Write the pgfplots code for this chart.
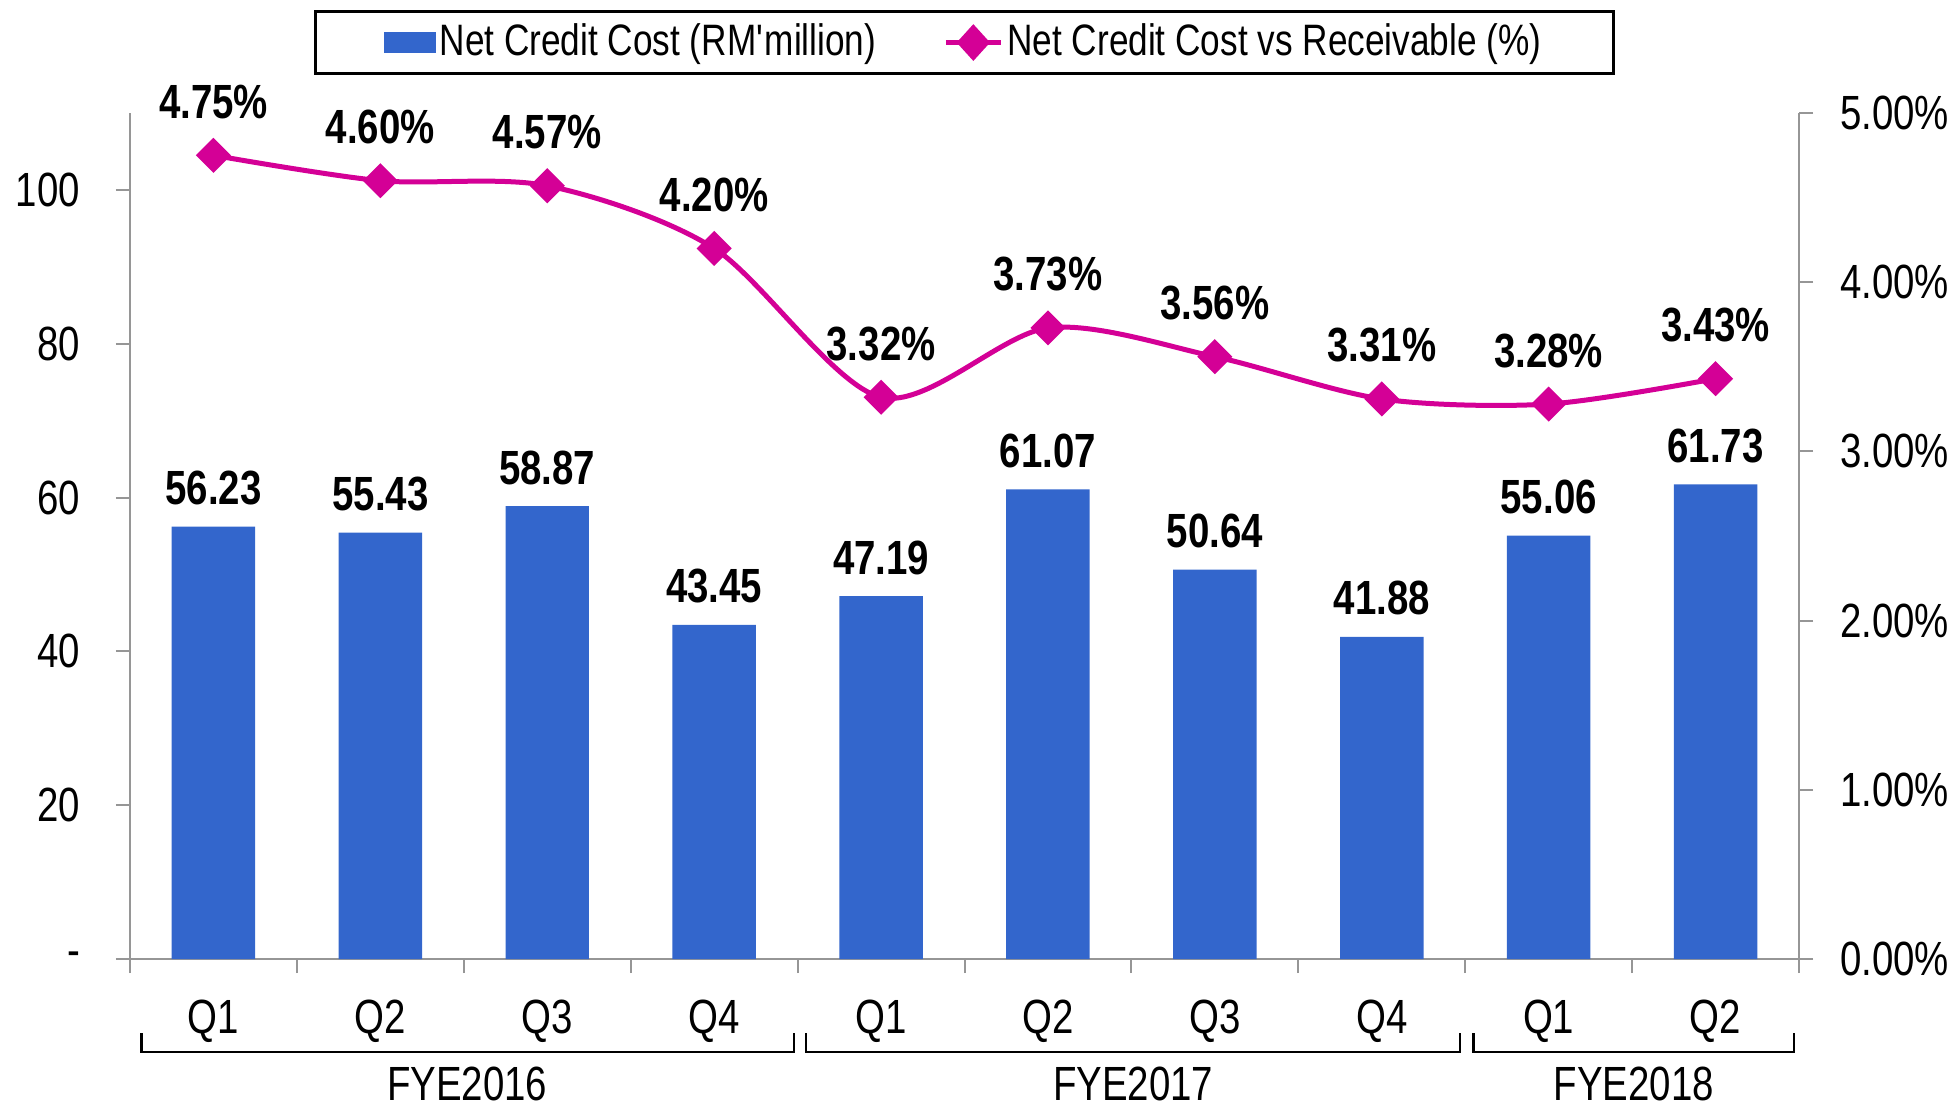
\documentclass[border=0pt]{standalone}
\usepackage{fontspec}
\setmainfont{Liberation Sans}[FakeStretch=0.8]
\usepackage{pgfplots}
\usepackage{pgfplotstable}
\pgfplotsset{compat=1.18}

\definecolor{barblue}{RGB}{51,102,204}
\definecolor{linemag}{RGB}{212,0,150}
\definecolor{axgray}{RGB}{150,150,150}

% quarters FYE2016 Q1 .. FYE2018 Q2
\pgfplotstableread{
x cost ratio
0 56.23 4.75
1 55.43 4.60
2 58.87 4.57
3 43.45 4.20
4 47.19 3.32
5 61.07 3.73
6 50.64 3.56
7 41.88 3.31
8 55.06 3.28
9 61.73 3.43
}\datatable

\newcommand{\lblfont}{\fontsize{12}{14}\selectfont}

\begin{document}
\begin{tikzpicture}
\pgfplotsset{
  common/.style={
    scale only axis, width=417.25pt, height=211.5pt,
    xmin=-0.5, xmax=9.5,
    at={(0,0)}, anchor=south west, clip=false,
    tick align=outside,
    major tick length=3.5pt, minor tick length=3.5pt,
    axis line style={draw=axgray, line width=0.5pt},
    every tick/.style={draw=axgray, line width=0.5pt},
    tick label style={font=\lblfont},
    /pgf/number format/assume math mode=true,
  },
}

\begin{axis}[common,
    ybar, bar width=0.5,
    ymin=0, ymax=110,
    axis y line*=left, axis x line*=bottom,
    ytick={0,20,...,100},
    yticklabels={-,20,40,60,80,100},
    yticklabel style={anchor=east, inner sep=0pt, xshift=-8.8pt},
    xtick={0,...,9},
    xticklabels={Q1,Q2,Q3,Q4,Q1,Q2,Q3,Q4,Q1,Q2},
    xticklabel style={anchor=base, inner sep=0pt, yshift=-15pt},
    minor xtick={-0.5,0.5,...,9.5},
    major x tick style={draw=none},
    legend style={at={(0.5,1)}, anchor=north, yshift=25.75pt,
      legend columns=2, draw=black, line width=0.8pt,
      font=\fontsize{11}{13}\selectfont,
      nodes={inner sep=1pt},
      inner xsep=17pt, inner ysep=2pt,
      /tikz/every even column/.append style={column sep=15.75pt}},
  ]
\addplot[fill=barblue, draw=none,
    legend image code/.code={\fill[barblue] (0pt,-2.6pt) rectangle (13pt,2.6pt);},
    nodes near coords={\pgfmathprintnumber[fixed,fixed zerofill,precision=2]{\pgfplotspointmeta}},
    every node near coord/.append style={font=\lblfont\bfseries, text=black,
      anchor=base, inner sep=0pt, yshift=5.5pt},
  ] table[x=x, y=cost] {\datatable};
\addlegendentry{Net Credit Cost (RM\textquotesingle million)}
\addlegendimage{legend image code/.code={
    \draw[linemag, line width=1.25pt] (0pt,0pt) -- (13.75pt,0pt);
    \fill[linemag] (6.875pt,4pt) -- (10.5pt,0pt) -- (6.875pt,-4pt) -- (3.25pt,0pt) -- cycle;}}
\addlegendentry{Net Credit Cost vs Receivable (\%)}

% year brackets under the quarter labels
\draw[black, line width=0.6pt]
  ([yshift=-18.5pt]axis cs:-0.43,0) -- ([yshift=-23.25pt]axis cs:-0.43,0)
  -- ([yshift=-23.25pt]axis cs:3.48,0) -- ([yshift=-18.5pt]axis cs:3.48,0);
\draw[black, line width=0.6pt]
  ([yshift=-18.5pt]axis cs:3.55,0) -- ([yshift=-23.25pt]axis cs:3.55,0)
  -- ([yshift=-23.25pt]axis cs:7.47,0) -- ([yshift=-18.5pt]axis cs:7.47,0);
\draw[black, line width=0.6pt]
  ([yshift=-18.5pt]axis cs:7.55,0) -- ([yshift=-23.25pt]axis cs:7.55,0)
  -- ([yshift=-23.25pt]axis cs:9.47,0) -- ([yshift=-18.5pt]axis cs:9.47,0);
\node[anchor=base, font=\lblfont, inner sep=0pt] at ([yshift=-35.4pt]axis cs:1.52,0) {FYE2016};
\node[anchor=base, font=\lblfont, inner sep=0pt] at ([yshift=-35.4pt]axis cs:5.51,0) {FYE2017};
\node[anchor=base, font=\lblfont, inner sep=0pt] at ([yshift=-35.4pt]axis cs:8.51,0) {FYE2018};
\end{axis}

\begin{axis}[common,
    ymin=0, ymax=5,
    axis y line*=right, axis x line=none,
    xtick=\empty,
    ytick={0,1,...,5},
    yticklabels={0.00\%,1.00\%,2.00\%,3.00\%,4.00\%,5.00\%},
    yticklabel style={anchor=west, inner sep=0pt, xshift=6.6pt},
  ]
\addplot[linemag, line width=1.25pt, smooth,
    mark=square*, mark size=2.9pt,
    mark options={rotate=45, solid, line width=0.4pt},
    nodes near coords={\pgfmathprintnumber[fixed,fixed zerofill,precision=2]{\pgfplotspointmeta}\%},
    every node near coord/.append style={font=\lblfont\bfseries, text=black,
      anchor=base, inner sep=0pt, yshift=9.25pt},
  ] table[x=x, y=ratio] {\datatable};
\end{axis}

\pgfresetboundingbox
\path[use as bounding box] (-32.5pt,-36.5pt) rectangle (456.75pt,239.75pt);
\end{tikzpicture}
\end{document}
